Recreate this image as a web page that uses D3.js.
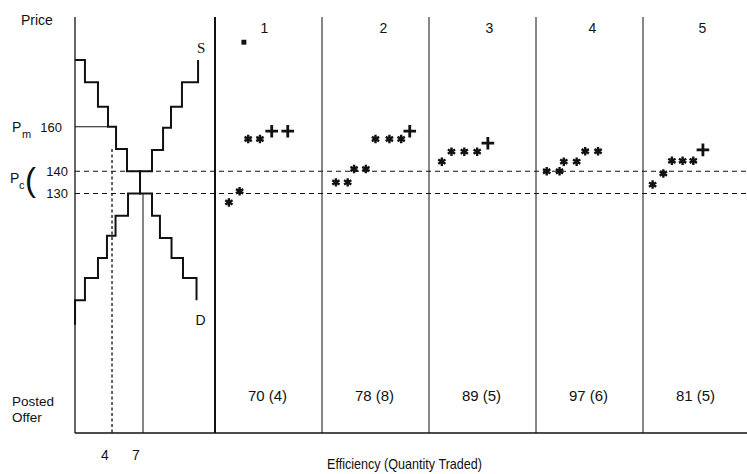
<!DOCTYPE html>
<html><head><meta charset="utf-8">
<script src="https://cdn.jsdelivr.net/npm/d3@7"></script>
<style>
body{margin:0;background:#fff}
svg{display:block}
text{font-family:"Liberation Sans",Arial,Helvetica,sans-serif;fill:#111}
</style></head>
<body><svg id="c" width="747" height="474"></svg>
<script>
// ---------- data ----------
const periods = ["1","2","3","4","5"];
const efficiency = [70, 78, 89, 97, 81];
const quantityTraded = [4, 8, 5, 6, 5];
const priceTicks = [160, 140, 130];
const competitivePrices = [140, 130];
const monopolyPrice = 160;
const quantityTicks = [4, 7];
// step demand (horizontal first), quantity / price
const demandQ = [0.42, 1.38, 2.64, 3.61, 4.39, 5.45, 6.71, 7.87, 8.64, 9.76, 10.87, 12.18];
const demandP = [190, 180, 169, 160, 150, 140, 130, 120, 110, 101, 92, 82];
// step supply (vertical first)
const supplyQ = [0.42, 1.38, 2.64, 3.51, 4.34, 5.55, 6.71, 7.87, 8.94, 9.71, 10.77, 12.33, 12.33];
const supplyP = [71, 82, 92, 101, 111, 120, 130, 140, 149.5, 159.5, 169, 180, 190];
// posted offers per period: position within period, price, mark
const offers1 = [[1.3,126,"*"],[2.3,131,"*"],[3.1,154.5,"*"],[4.2,154.5,"*"],[5.3,158,"+"],[6.8,158,"+"],[2.7,198,"s"]];
const offers2 = [[1.3,135,"*"],[2.4,135,"*"],[3.0,141,"*"],[4.1,141,"*"],[5.0,154.5,"*"],[6.3,154.5,"*"],[7.4,154.5,"*"],[8.2,158,"+"]];
const offers3 = [[1.2,144.3,"*"],[2.1,148.8,"*"],[3.3,148.8,"*"],[4.5,148.8,"*"],[5.5,152.6,"+"]];
const offers4 = [[1.0,140,"*"],[2.2,140,"*"],[2.6,144.3,"*"],[3.8,144.3,"*"],[4.6,149,"*"],[5.8,149,"*"]];
const offers5 = [[0.9,134,"*"],[1.9,139,"*"],[2.7,144.7,"*"],[3.7,144.7,"*"],[4.7,144.7,"*"],[5.6,149.6,"+"]];
const offersByPeriod = [offers1, offers2, offers3, offers4, offers5];

// ---------- layout ----------
const svg = d3.select("#c");
const plotTop = 17, plotBottom = 433, plotLeft = 75, plotRight = 747;
const y = d3.scaleLinear().domain([130, 160]).range([193.5, 126.75]);
const q = d3.scaleLinear().domain([0, 12]).range([70.7, 194.66]);
const band = d3.scaleBand().domain(periods).range([215, 750]).padding(0);
const pos = d3.scaleLinear().domain([0, 10]).range([0, band.bandwidth()]);

// axes frame
svg.append("line").attr("x1",plotLeft).attr("x2",plotLeft).attr("y1",plotTop).attr("y2",plotBottom)
  .attr("stroke","#111").attr("stroke-width",1.3);
svg.append("line").attr("x1",plotLeft).attr("x2",plotRight).attr("y1",plotBottom).attr("y2",plotBottom)
  .attr("stroke","#111").attr("stroke-width",1.3);
// period dividers
svg.selectAll("line.div").data(periods).join("line").attr("class","div")
  .attr("x1",d=>band(d)).attr("x2",d=>band(d)).attr("y1",plotTop).attr("y2",plotBottom)
  .attr("stroke","#111").attr("stroke-width",(d,i)=>i===0?2:1);

// dashed competitive price lines
svg.selectAll("line.pc").data(competitivePrices).join("line").attr("class","pc")
  .attr("x1",plotLeft).attr("x2",plotRight).attr("y1",d=>y(d)).attr("y2",d=>y(d))
  .attr("stroke","#111").attr("stroke-width",1.2).attr("stroke-dasharray","5,4");

// monopoly price line
svg.append("line").attr("x1",plotLeft).attr("x2",q(demandQ[3])).attr("y1",y(monopolyPrice)).attr("y2",y(monopolyPrice))
  .attr("stroke","#111").attr("stroke-width",1.1);
// monopoly quantity dotted line
svg.append("line").attr("x1",q(quantityTicks[0])).attr("x2",q(quantityTicks[0]))
  .attr("y1",y(150)).attr("y2",plotBottom)
  .attr("stroke","#111").attr("stroke-width",1.3).attr("stroke-dasharray","3,2.5");
// competitive quantity line
svg.append("line").attr("x1",q(quantityTicks[1])).attr("x2",q(quantityTicks[1]))
  .attr("y1",y(130)).attr("y2",plotBottom)
  .attr("stroke","#111").attr("stroke-width",1);

// demand & supply steps
const demand = demandQ.map((d,i)=>[d, demandP[i]]);
const supply = supplyQ.map((d,i)=>[d, supplyP[i]]);
svg.append("path").attr("d", d3.line().x(d=>q(d[0])).y(d=>y(d[1])).curve(d3.curveStepAfter)(demand))
  .attr("fill","none").attr("stroke","#111").attr("stroke-width",2);
svg.append("path").attr("d", d3.line().x(d=>q(d[0])).y(d=>y(d[1])).curve(d3.curveStepBefore)(supply))
  .attr("fill","none").attr("stroke","#111").attr("stroke-width",2);

// marks
const ast = d3.symbol().type(d3.symbolAsterisk).size(50)();
const plus = d3.symbol().type(d3.symbolPlus).size(54)();
const sq = d3.symbol().type(d3.symbolSquare).size(24)();
offersByPeriod.forEach((arr, i) => {
  const x0 = band(periods[i]);
  svg.append("g").selectAll("path").data(arr).join("path")
    .attr("transform", d => `translate(${x0 + pos(d[0])},${y(d[1])})`)
    .attr("d", d => d[2]==="*" ? ast : d[2]==="+" ? plus : sq)
    .attr("fill", d => d[2]==="s" ? "#111" : "none")
    .attr("stroke", d => d[2]==="s" ? "none" : "#111")
    .attr("stroke-width", d => d[2]==="+" ? 2.8 : 2.4)
    .attr("stroke-linecap","butt");
});

// ---------- text ----------
function label(x, yy, s, size, anchor, extra){
  const t = svg.append("text").attr("x",x).attr("y",yy).text(s)
    .attr("font-size",size).attr("text-anchor",anchor||"start");
  if (extra) extra(t);
  return t;
}
label(21, 25, "Price", 14);
// Pm 160
label(12, y(monopolyPrice)+5, "P", 14);
label(22, y(monopolyPrice)+11, "m", 11);
label(62, y(160)+5, String(priceTicks[0]), 13, "end");
// Pc ( 140 130
label(10, y(140)+12, "P", 14);
label(19, y(140)+18, "c", 11);
label(25, y(130)-3, "(", 33);
label(68, y(priceTicks[1])+5, String(priceTicks[1]), 13, "end");
label(68, y(priceTicks[2])+4, String(priceTicks[2]), 13, "end");
// S and D
label(q(supplyQ[12])+3, y(supplyP[12])-7, "S", 15, "middle", t=>t.style("font-family","'Liberation Serif','Times New Roman',serif"));
label(q(demandQ[11])+4, y(demandP[11])+25, "D", 14, "middle");
// period numbers
svg.selectAll("text.per").data(periods).join("text").attr("class","per")
  .attr("x", (d,i)=>band(d)+band.bandwidth()/2 + [-4,8,7,3,6][i]).attr("y",33)
  .attr("text-anchor","middle").attr("font-size",14).text(d=>d);
// posted offer row
label(12, 406, "Posted", 13.5);
label(12, 422, "Offer", 13.5);
svg.selectAll("text.eff").data(periods).join("text").attr("class","eff")
  .attr("x", d=>band(d)+band.bandwidth()/2 - 1).attr("y",401)
  .attr("text-anchor","middle").attr("font-size",15)
  .text((d,i)=>`${efficiency[i]} (${quantityTraded[i]})`);
// quantity ticks
svg.selectAll("text.qt").data(quantityTicks).join("text").attr("class","qt")
  .attr("x", d=>q(d)-7).attr("y",460).attr("text-anchor","middle").attr("font-size",14).text(d=>d);
// x title
label(327, 469, "Efficiency (Quantity Traded)", 14.5, "start", t=>t.attr("textLength",155).attr("lengthAdjust","spacingAndGlyphs"));
</script></body></html>
